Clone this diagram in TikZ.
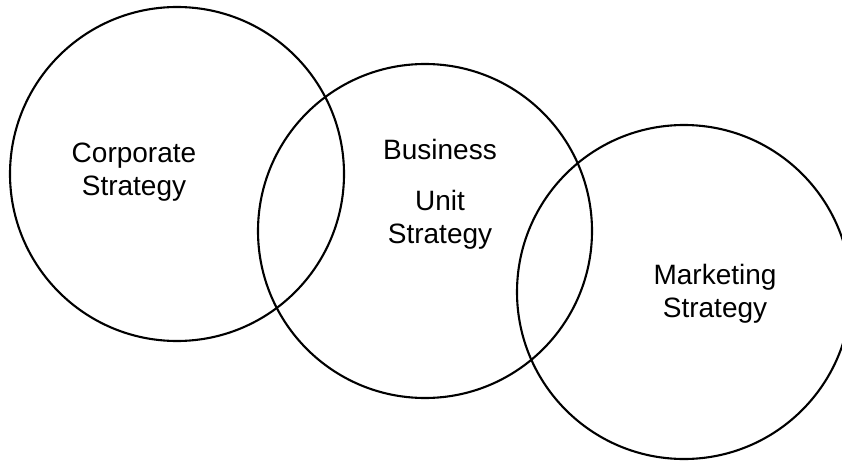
\documentclass[tikz,border=0pt]{standalone}
\usepackage{fontspec}
\setmainfont{Liberation Sans}
\usetikzlibrary{positioning}

\begin{document}
\begin{tikzpicture}[x=1pt,y=1pt,
  ring/.style={circle,draw=black,line width=2.1pt,minimum size=334pt,inner sep=0pt},
  label/.style={align=center,font=\fontsize{28}{33}\selectfont,inner sep=0pt}]
\useasboundingbox (0,0) rectangle (842,461);
% the three overlapping strategy circles
\node[ring] (c1) at (177,287) {};
\node[ring] (c2) at (425,230) {};
\node[ring] (c3) at (684,169) {};
% texts
\node[label] (corp) at (134,289) {Corporate\\Strategy};
\node[label] (bus) at (440,312) {Business};
\node[label] (unit) at (440,241) {Unit\\Strategy};
\node[label] (mkt) at (715,167) {Marketing\\Strategy};
\end{tikzpicture}
\end{document}
